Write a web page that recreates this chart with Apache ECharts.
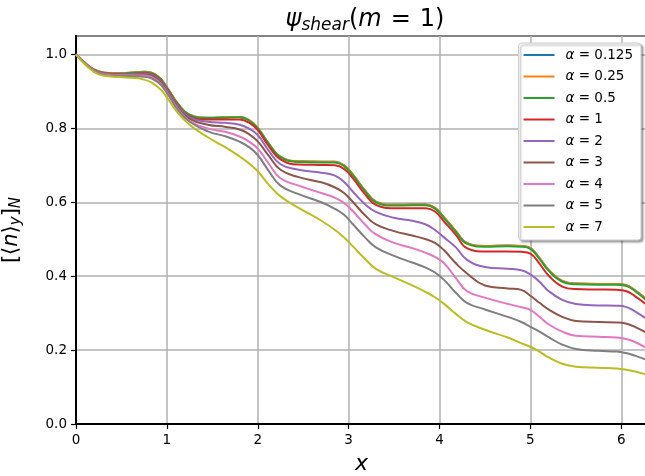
<!DOCTYPE html>
<html>
<head>
<meta charset="utf-8">
<script src="https://cdn.jsdelivr.net/npm/echarts@6/dist/echarts.min.js"></script>
<style>
  html, body { margin: 0; padding: 0; background: #fff; }
  #chart { width: 645px; height: 476px; }
</style>
</head>
<body>
<div id="chart"></div>
<script>
// x positions shared by all curves
const xs = [0, 0.12, 0.25, 0.4, 0.55, 0.75, 0.9, 1.0, 1.12, 1.25, 1.45, 1.65, 1.8, 1.9, 2.0, 2.12, 2.25, 2.45, 2.7, 2.85, 2.95, 3.05, 3.18, 3.3, 3.5, 3.7, 3.85, 3.95, 4.05, 4.18, 4.3, 4.5, 4.75, 4.9, 5.0, 5.1, 5.2, 5.35, 5.5, 5.75, 5.95, 6.05, 6.15, 6.283];

const alpha0125 = [1.0, 0.972, 0.954, 0.949, 0.95, 0.953, 0.941, 0.911, 0.867, 0.837, 0.829, 0.83, 0.831, 0.823, 0.801, 0.759, 0.723, 0.711, 0.71, 0.71, 0.7, 0.674, 0.632, 0.602, 0.593, 0.594, 0.594, 0.585, 0.559, 0.522, 0.49, 0.482, 0.483, 0.482, 0.476, 0.449, 0.417, 0.387, 0.38, 0.379, 0.379, 0.376, 0.362, 0.337];
const alpha025 = [1.0, 0.972, 0.954, 0.949, 0.95, 0.953, 0.941, 0.911, 0.867, 0.837, 0.829, 0.83, 0.831, 0.823, 0.801, 0.759, 0.723, 0.711, 0.71, 0.71, 0.7, 0.674, 0.632, 0.602, 0.593, 0.594, 0.594, 0.585, 0.559, 0.522, 0.49, 0.482, 0.483, 0.482, 0.476, 0.449, 0.417, 0.387, 0.38, 0.379, 0.379, 0.376, 0.362, 0.336];
const alpha05 = [1.0, 0.972, 0.953, 0.948, 0.949, 0.952, 0.94, 0.91, 0.866, 0.836, 0.828, 0.829, 0.83, 0.822, 0.80, 0.758, 0.722, 0.709, 0.708, 0.708, 0.698, 0.672, 0.63, 0.60, 0.591, 0.592, 0.592, 0.583, 0.557, 0.52, 0.488, 0.48, 0.481, 0.48, 0.474, 0.447, 0.415, 0.385, 0.378, 0.377, 0.377, 0.374, 0.36, 0.333];
const alpha1 = [1.0, 0.972, 0.952, 0.947, 0.947, 0.949, 0.937, 0.907, 0.862, 0.832, 0.824, 0.824, 0.824, 0.816, 0.795, 0.752, 0.716, 0.702, 0.701, 0.70, 0.69, 0.664, 0.622, 0.593, 0.584, 0.584, 0.584, 0.575, 0.548, 0.512, 0.476, 0.467, 0.467, 0.466, 0.461, 0.434, 0.402, 0.372, 0.365, 0.364, 0.363, 0.36, 0.346, 0.322];
const alpha2 = [1.0, 0.972, 0.952, 0.946, 0.947, 0.948, 0.935, 0.905, 0.86, 0.83, 0.818, 0.815, 0.81, 0.80, 0.782, 0.74, 0.703, 0.688, 0.68, 0.672, 0.655, 0.628, 0.595, 0.574, 0.558, 0.55, 0.54, 0.525, 0.505, 0.478, 0.445, 0.425, 0.42, 0.416, 0.405, 0.385, 0.36, 0.336, 0.325, 0.321, 0.32, 0.317, 0.305, 0.284];
const alpha3 = [1.0, 0.972, 0.951, 0.945, 0.946, 0.946, 0.932, 0.902, 0.857, 0.826, 0.81, 0.804, 0.797, 0.785, 0.765, 0.726, 0.688, 0.668, 0.654, 0.64, 0.625, 0.6, 0.565, 0.54, 0.522, 0.51, 0.5, 0.49, 0.47, 0.435, 0.408, 0.375, 0.367, 0.363, 0.347, 0.328, 0.31, 0.29, 0.279, 0.276, 0.275, 0.272, 0.263, 0.246];
const alpha4 = [1.0, 0.971, 0.95, 0.944, 0.944, 0.943, 0.928, 0.898, 0.853, 0.82, 0.80, 0.79, 0.778, 0.765, 0.745, 0.705, 0.665, 0.645, 0.625, 0.612, 0.598, 0.575, 0.54, 0.513, 0.49, 0.476, 0.463, 0.452, 0.435, 0.395, 0.36, 0.342, 0.325, 0.316, 0.309, 0.29, 0.27, 0.25, 0.239, 0.236, 0.234, 0.23, 0.222, 0.205];
const alpha5 = [1.0, 0.97, 0.949, 0.942, 0.942, 0.94, 0.925, 0.896, 0.85, 0.818, 0.792, 0.778, 0.764, 0.75, 0.728, 0.685, 0.645, 0.622, 0.6, 0.582, 0.566, 0.54, 0.505, 0.478, 0.455, 0.437, 0.423, 0.41, 0.39, 0.355, 0.328, 0.31, 0.29, 0.276, 0.263, 0.25, 0.235, 0.215, 0.203, 0.198, 0.196, 0.192, 0.185, 0.173];
const alpha7 = [1.0, 0.968, 0.946, 0.94, 0.938, 0.932, 0.912, 0.884, 0.842, 0.81, 0.776, 0.748, 0.724, 0.706, 0.684, 0.648, 0.616, 0.585, 0.55, 0.525, 0.505, 0.48, 0.447, 0.42, 0.397, 0.375, 0.357, 0.343, 0.325, 0.298, 0.276, 0.255, 0.234, 0.219, 0.209, 0.196, 0.18, 0.163, 0.155, 0.152, 0.15, 0.147, 0.142, 0.133];

const names = ['α = 0.125', 'α = 0.25', 'α = 0.5', 'α = 1', 'α = 2', 'α = 3', 'α = 4', 'α = 5', 'α = 7'];
const colors = ['#1f77b4', '#ff7f0e', '#2ca02c', '#d62728', '#9467bd', '#8c564b', '#e377c2', '#7f7f7f', '#bcbd22'];
const curves = [alpha0125, alpha025, alpha05, alpha1, alpha2, alpha3, alpha4, alpha5, alpha7];

const font = 'DejaVu Sans';
const chart = echarts.init(document.getElementById('chart'));

const option = {
  animation: false,
  color: colors,
  title: {
    text: '{i|ψ}{s|shear}{n|(}{i|m}{e|=}{n|1)}',
    left: 360,
    textAlign: 'center',
    top: 0,
    textStyle: {
      fontWeight: 'normal',
      fontSize: 24,
      rich: {
        i: { fontFamily: font, fontSize: 24, fontStyle: 'italic', fontWeight: 'normal', color: '#000', lineHeight: 30 },
        n: { fontFamily: font, fontSize: 24, fontWeight: 'normal', color: '#000', lineHeight: 30 },
        e: { fontFamily: font, fontSize: 24, fontWeight: 'normal', color: '#000', lineHeight: 30, padding: [0, 9, 0, 9] },
        s: { fontFamily: font, fontSize: 17, fontStyle: 'italic', fontWeight: 'normal', color: '#000', padding: [12, 0, 0, 0] }
      }
    }
  },
  legend: {
    orient: 'vertical',
    right: 4,
    top: 43,
    padding: [5, 8, 6, 5],
    itemGap: 7.5,
    itemWidth: 31,
    itemHeight: 2,
    icon: 'rect',
    backgroundColor: '#fff',
    borderColor: '#cccccc',
    borderWidth: 1,
    borderRadius: 3,
    shadowColor: 'rgba(0,0,0,0.35)',
    shadowBlur: 2,
    shadowOffsetX: 2,
    shadowOffsetY: 2,
    data: names,
    formatter: function (name) {
      return '{a|α}{t|' + name.slice(1) + '}';
    },
    textStyle: {
      rich: {
        a: { fontFamily: font, fontSize: 13.5, fontStyle: 'italic', color: '#000', lineHeight: 16, padding: [0, 0, 0, 6] },
        t: { fontFamily: font, fontSize: 13.5, color: '#000', lineHeight: 16 }
      }
    }
  },
  grid: {
    show: true,
    left: 76,
    top: 36,
    right: -2,
    bottom: 52,
    outerBoundsMode: 'none',
    containLabel: false,
    borderColor: '#000',
    borderWidth: 2,
    backgroundColor: 'transparent'
  },
  xAxis: {
    type: 'value',
    min: 0,
    max: 2 * Math.PI,
    interval: 1,
    name: 'x',
    nameLocation: 'middle',
    nameGap: 29,
    nameTextStyle: { fontFamily: font, fontSize: 22, fontStyle: 'italic', color: '#000' },
    axisLine: { show: true, lineStyle: { color: '#000', width: 2 } },
    axisTick: { show: true, length: 5, lineStyle: { color: '#000', width: 1.2 } },
    axisLabel: { fontFamily: font, fontSize: 13.5, color: '#000', margin: 9, showMaxLabel: false },
    splitLine: { show: true, lineStyle: { color: '#b0b0b0', width: 1.5 } }
  },
  yAxis: {
    type: 'value',
    min: 0,
    max: 1.05,
    interval: 0.2,
    name: '{b|[⟨}{i|n}{b|⟩}{s|y}{b|]}{s|N}',
    nameLocation: 'middle',
    nameRotate: 90,
    nameGap: 52,
    nameTextStyle: {
      rich: {
        b: { fontFamily: font, fontSize: 21, color: '#000' },
        i: { fontFamily: font, fontSize: 21, fontStyle: 'italic', color: '#000' },
        s: { fontFamily: font, fontSize: 15, fontStyle: 'italic', color: '#000', padding: [10, 0, 0, 0] }
      }
    },
    axisLine: { show: true, lineStyle: { color: '#000', width: 2 } },
    axisTick: { show: true, length: 5, lineStyle: { color: '#000', width: 1.2 } },
    axisLabel: {
      fontFamily: font, fontSize: 13.5, color: '#000', margin: 9, showMaxLabel: false,
      formatter: function (v) { return v.toFixed(1); }
    },
    splitLine: { show: true, lineStyle: { color: '#b0b0b0', width: 1.5 } }
  },
  series: curves.map(function (ys, k) {
    return {
      name: names[k],
      type: 'line',
      smooth: 0.45,
      showSymbol: false,
      clip: true,
      lineStyle: { width: 2, color: colors[k] },
      itemStyle: { color: colors[k] },
      data: xs.map(function (x, i) { return [x, ys[i]]; })
    };
  })
};

chart.setOption(option);
</script>
</body>
</html>
